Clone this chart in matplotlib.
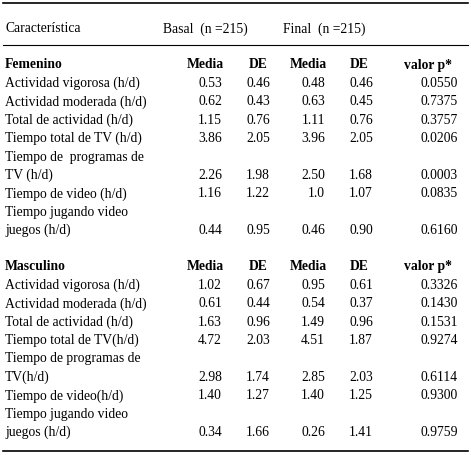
import matplotlib
matplotlib.use("Agg")
import matplotlib.pyplot as plt

fem_labels = ["Actividad vigorosa (h/d)", "Actividad moderada (h/d)", "Total de actividad (h/d)",
              "Tiempo total de TV (h/d)", "Tiempo de  programas de\nTV (h/d)", "Tiempo de video (h/d)",
              "Tiempo jugando video\njuegos (h/d)"]
fem_media_b = ["0.53", "0.62", "1.15", "3.86", "2.26", "1.16", "0.44"]
fem_de_b = ["0.46", "0.43", "0.76", "2.05", "1.98", "1.22", "0.95"]
fem_media_f = ["0.48", "0.63", "1.11", "3.96", "2.50", "1.0", "0.46"]
fem_de_f = ["0.46", "0.45", "0.76", "2.05", "1.68", "1.07", "0.90"]
fem_p = ["0.0550", "0.7375", "0.3757", "0.0206", "0.0003", "0.0835", "0.6160"]

mas_labels = ["Actividad vigorosa (h/d)", "Actividad moderada (h/d)", "Total de actividad (h/d)",
              "Tiempo total de TV(h/d)", "Tiempo de programas de\nTV(h/d)", "Tiempo de video(h/d)",
              "Tiempo jugando video\njuegos (h/d)"]
mas_media_b = ["1.02", "0.61", "1.63", "4.72", "2.98", "1.40", "0.34"]
mas_de_b = ["0.67", "0.44", "0.96", "2.03", "1.74", "1.27", "1.66"]
mas_media_f = ["0.95", "0.54", "1.49", "4.51", "2.85", "1.40", "0.26"]
mas_de_f = ["0.61", "0.37", "0.96", "1.87", "2.03", "1.25", "1.41"]
mas_p = ["0.3326", "0.1430", "0.1531", "0.9274", "0.6114", "0.9300", "0.9759"]

col_heads = ["Media", "DE", "Media", "DE", "valor p*"]

W, H = 471, 456
fig = plt.figure(figsize=(W/100, H/100), dpi=100)
ax = fig.add_axes([0, 0, 1, 1])
ax.set_xlim(0, W); ax.set_ylim(H, 0); ax.axis("off")
plt.rcParams['font.family'] = ['Liberation Serif']
fs = 9.8

ax.plot([3, 468], [4, 4], color="black", lw=1.2)
ax.plot([3, 468], [46, 46], color="black", lw=0.8)
ax.plot([3, 468], [452, 452], color="black", lw=1.2)
ax.text(5, 29, "Característica", fontsize=fs, va="center")
ax.text(163, 29, "Basal  (n =215)", fontsize=fs, va="center")
ax.text(283, 29, "Final  (n =215)", fontsize=fs, va="center")

num_x = [222, 270, 325, 373, 458]
head_x = [205, 258, 308, 359, 428]
step = 18.4

def block(y0, title, labels, cols):
    ax.text(5, y0, title, fontsize=fs, va="center", fontweight="bold")
    for hx, h in zip(head_x, col_heads):
        ax.text(hx, y0, h, fontsize=fs, va="center", ha="center", fontweight="bold")
    y = y0 + step
    for i, lab in enumerate(labels):
        if "\n" in lab:
            l1, l2 = lab.split("\n")
            ax.text(5, y, l1, fontsize=fs, va="center")
            y += step
            ax.text(5, y, l2, fontsize=fs, va="center")
        else:
            ax.text(5, y, lab, fontsize=fs, va="center")
        for cx, c in zip(num_x, cols):
            ax.text(cx, y, c[i], fontsize=fs, va="center", ha="right")
        y += step

block(65, "Femenino", fem_labels, [fem_media_b, fem_de_b, fem_media_f, fem_de_f, fem_p])
block(267, "Masculino", mas_labels, [mas_media_b, mas_de_b, mas_media_f, mas_de_f, mas_p])

fig.savefig("out.png", dpi=100)
